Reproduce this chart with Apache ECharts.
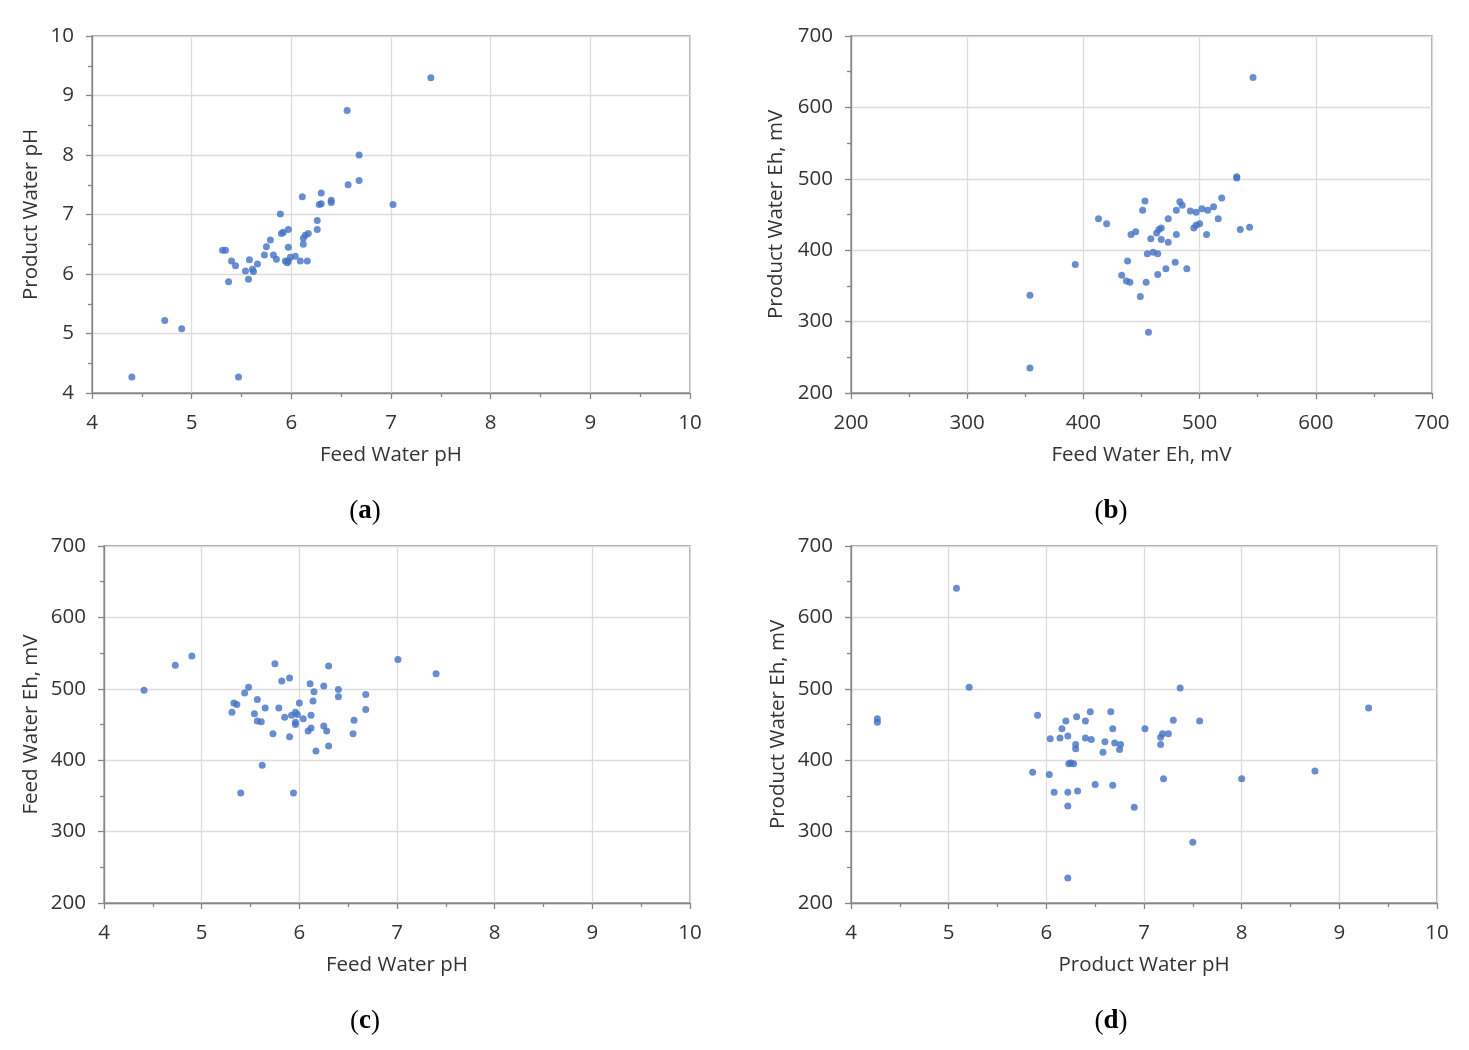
<!DOCTYPE html>
<html>
<head>
<meta charset="utf-8">
<title>Feed / Product water pH and Eh</title>
<script src="https://cdn.jsdelivr.net/npm/echarts@6/dist/echarts.min.js"></script>
<style>
    html, body { margin: 0; padding: 0; background: #fff; }
    #chart { width: 1469px; height: 1050px; }
</style>
</head>
<body>
<div id="chart"></div>
<script>
// (a) feed pH vs product pH
var feedPhProductPh = [
    [4.40, 4.27], [4.73, 5.22], [4.90, 5.08], [5.47, 4.27],
    [7.40, 9.30], [6.56, 8.75], [6.68, 8.00], [6.57, 7.50], [6.68, 7.57], [7.02, 7.17],
    [6.11, 7.30], [6.30, 7.36], [6.28, 7.17], [6.30, 7.18], [6.40, 7.24], [6.40, 7.20],
    [5.89, 7.01], [6.26, 6.90], [6.26, 6.75], [5.97, 6.75], [5.92, 6.70], [5.90, 6.68],
    [5.79, 6.57], [6.17, 6.68], [6.14, 6.65], [6.12, 6.60], [6.12, 6.50], [5.97, 6.45],
    [5.75, 6.46], [5.73, 6.32], [5.82, 6.32], [5.85, 6.25], [5.31, 6.40], [5.34, 6.40],
    [5.40, 6.22], [5.44, 6.14], [5.58, 6.24], [5.66, 6.17], [5.54, 6.05], [5.61, 6.08],
    [5.62, 6.04], [5.57, 5.91], [5.37, 5.87], [5.94, 6.22], [5.96, 6.19], [5.97, 6.22],
    [5.99, 6.28], [6.04, 6.30], [6.09, 6.22], [6.16, 6.22]
];
// (b) feed Eh vs product Eh
var feedEhProductEh = [
    [354, 235], [546, 642], [532, 503], [532, 501], [519, 473], [483, 468], [485, 463],
    [453, 469], [451, 456], [480, 456], [492, 455], [497, 453], [502, 458], [507, 456],
    [512, 461], [516, 444], [473, 444], [413, 444], [420, 437], [500, 437], [497, 435],
    [495, 431], [506, 422], [535, 429], [543, 432], [445, 426], [441, 422], [467, 431],
    [465, 429], [463, 424], [480, 422], [458, 416], [467, 415], [473, 411], [455, 395],
    [460, 397], [464, 395], [438, 385], [393, 380], [479, 383], [471, 374], [489, 374],
    [464, 366], [433, 365], [437, 357], [440, 355], [454, 355], [354, 337], [449, 335],
    [456, 285]
];
// (c) feed pH vs feed Eh
var feedPhFeedEh = [
    [4.41, 498], [4.73, 533], [7.40, 521], [4.90, 546], [5.75, 535], [7.01, 541],
    [6.30, 532], [5.90, 515], [5.82, 511], [6.11, 507], [6.25, 504], [5.48, 502],
    [5.44, 494], [6.15, 496], [6.40, 499], [6.40, 489], [6.68, 492], [5.57, 485],
    [6.14, 483], [6.00, 480], [5.33, 480], [5.36, 478], [5.31, 467], [5.65, 473],
    [5.79, 473], [6.68, 471], [5.54, 465], [5.92, 463], [5.96, 467], [5.98, 464],
    [6.04, 458], [5.85, 460], [6.12, 463], [5.57, 455], [5.61, 454], [5.96, 453],
    [5.96, 450], [6.56, 456], [6.25, 448], [6.12, 445], [6.09, 441], [6.28, 441],
    [6.55, 437], [5.73, 437], [5.90, 433], [6.17, 413], [6.30, 420], [5.62, 393],
    [5.40, 354], [5.94, 354]
];
// (d) product pH vs product Eh
var productPhProductEh = [
    [4.27, 458], [4.27, 453], [5.08, 641], [5.21, 502], [9.30, 473], [8.75, 385],
    [8.00, 374], [7.50, 285], [6.22, 235], [7.37, 501], [5.91, 463], [6.45, 468],
    [6.66, 468], [6.31, 461], [6.20, 455], [6.40, 455], [7.30, 456], [7.57, 455],
    [6.16, 444], [6.68, 444], [7.01, 444], [6.04, 430], [6.14, 431], [6.22, 434],
    [6.40, 431], [6.46, 429], [7.19, 437], [7.17, 432], [7.25, 437], [6.30, 422],
    [6.30, 416], [6.60, 426], [6.70, 424], [6.76, 422], [6.75, 415], [7.17, 422],
    [6.58, 411], [6.23, 395], [6.25, 396], [6.28, 395], [5.86, 383], [6.03, 380],
    [7.20, 374], [6.50, 366], [6.68, 365], [6.08, 355], [6.22, 355], [6.32, 357],
    [6.22, 336], [6.90, 334]
];

var panelData = [feedPhProductPh, feedEhProductEh, feedPhFeedEh, productPhProductEh];
var xNames = ['Feed Water pH', 'Feed Water Eh, mV', 'Feed Water pH', 'Product Water pH'];
var yNames = ['Product Water pH', 'Product Water Eh, mV', 'Feed Water Eh, mV', 'Product Water Eh, mV'];
var panelLetters = ['a', 'b', 'c', 'd'];
var pHRange = [4, 10, 1];
var ehRange = [200, 700, 100];
var xRanges = [pHRange, ehRange, pHRange, pHRange];
var yRanges = [pHRange, ehRange, ehRange, ehRange];

var chart = echarts.init(document.getElementById('chart'));

var font = '"Open Sans", "Liberation Sans", sans-serif';
var serif = '"Liberation Serif", "DejaVu Serif", serif';
var axisColor = '#868686';
var textColor = '#333333';

var grids = [
    {left: 92, top: 36, width: 598, height: 357},
    {left: 851, top: 36, width: 581, height: 357},
    {left: 104, top: 546, width: 586, height: 357},
    {left: 851, top: 546, width: 586, height: 357}
];
var yNameGaps = [50, 64, 62, 62];
var captionPos = [[360, 493], [1106, 493], [360, 1003], [1106, 1003]];

function makeAxis(range, name, isX, idx, gap) {
    return {
        type: 'value',
        gridIndex: idx,
        min: range[0],
        max: range[1],
        interval: range[2],
        name: name,
        nameLocation: 'middle',
        nameGap: gap,
        nameTextStyle: {fontFamily: font, fontSize: 20.5, color: textColor},
        axisLine: {show: true, lineStyle: {color: axisColor, width: 1.3}},
        axisTick: {show: true, length: 6, lineStyle: {color: axisColor, width: 1.3}},
        minorTick: {show: true, splitNumber: 2, length: 4, lineStyle: {color: axisColor, width: 1.3}},
        axisLabel: {fontFamily: font, fontSize: 20.5, color: textColor, margin: isX ? 20 : 18},
        splitLine: {show: true, lineStyle: {color: '#dcdcdc', width: 1.3}}
    };
}

var xAxes = [], yAxes = [], series = [], titles = [];
for (var i = 0; i < 4; i++) {
    grids[i].show = true;
    grids[i].borderColor = axisColor;
    grids[i].borderWidth = 1.3;
    xAxes.push(makeAxis(xRanges[i], xNames[i], true, i, 52));
    yAxes.push(makeAxis(yRanges[i], yNames[i], false, i, yNameGaps[i]));
    series.push({
        type: 'scatter',
        xAxisIndex: i,
        yAxisIndex: i,
        symbolSize: 7,
        itemStyle: {color: '#4472C4'},
        data: panelData[i]
    });
    titles.push({
        left: captionPos[i][0],
        top: captionPos[i][1],
        textAlign: 'center',
        text: '{p|(}{b|' + panelLetters[i] + '}{p|)}',
        textStyle: {
            fontWeight: 'normal',
            rich: {
                p: {fontFamily: serif, fontSize: 27, fontWeight: 'normal', color: '#000'},
                b: {fontFamily: serif, fontSize: 27, fontWeight: 'bold', color: '#000'}
            }
        }
    });
}

chart.setOption({
    animation: false,
    title: titles,
    grid: grids,
    xAxis: xAxes,
    yAxis: yAxes,
    series: series
});
</script>
</body>
</html>
